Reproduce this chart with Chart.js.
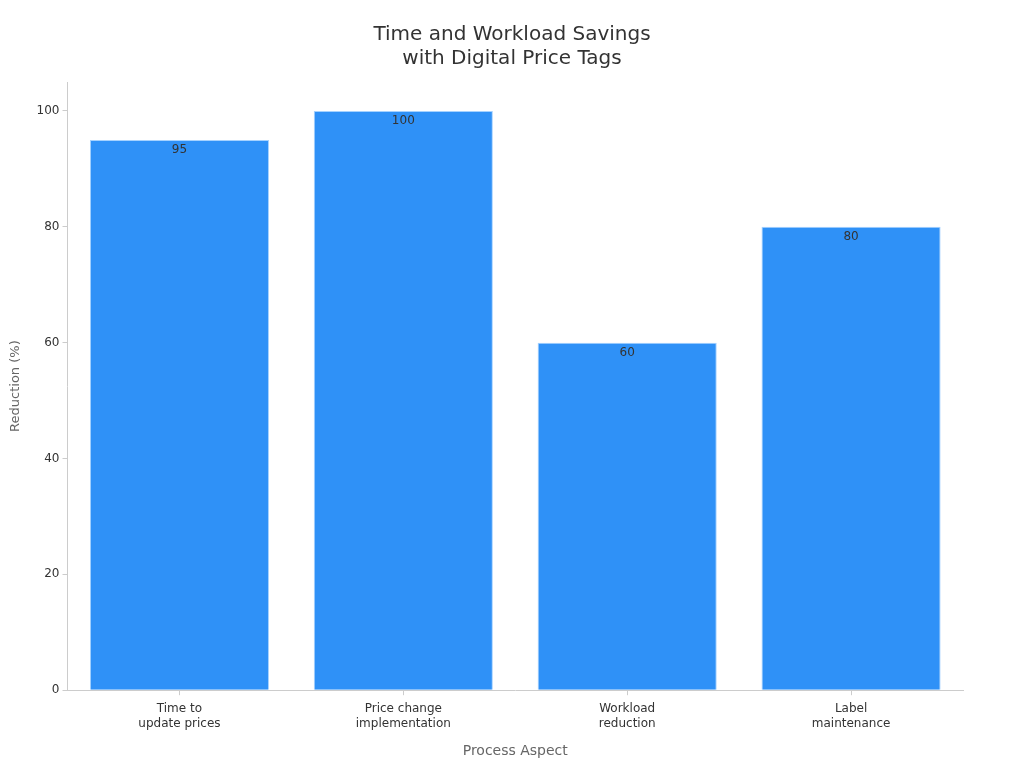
<!DOCTYPE html>
<html>
<head>
<meta charset="utf-8">
<script src="https://cdn.jsdelivr.net/npm/chart.js@4"></script>
<style>
  html, body { margin: 0; padding: 0; background: #fff; }
  #wrap { width: 1024px; height: 768px; }
</style>
</head>
<body>
<div id="wrap"><canvas id="savingsChart"></canvas></div>
<script>
// chart data
const categories = [['Time to', 'update prices'], ['Price change', 'implementation'], ['Workload', 'reduction'], ['Label', 'maintenance']];
const reductionValues = [95, 100, 60, 80];
const yTicks = [0, 20, 40, 60, 80, 100];

// value labels just inside the top of each bar
const barValueLabels = {
    id: 'barValueLabels',
    afterDatasetsDraw(chart) {
        const ctx = chart.ctx;
        const meta = chart.getDatasetMeta(0);
        ctx.save();
        ctx.font = '12px "DejaVu Sans", sans-serif';
        ctx.fillStyle = '#333333';
        ctx.textAlign = 'center';
        ctx.textBaseline = 'middle';
        meta.data.forEach((bar, i) => {
            ctx.fillText(String(reductionValues[i]), bar.x, bar.y + 10);
        });
        ctx.restore();
    }
};

Chart.defaults.font.family = '"DejaVu Sans", sans-serif';

new Chart(document.getElementById('savingsChart'), {
    type: 'bar',
    data: {
        labels: categories,
        datasets: [{
            label: 'Reduction (%)',
            data: reductionValues,
            backgroundColor: '#2f91f7',
            borderColor: '#a6d2ff',
            borderWidth: 1,
            barPercentage: 0.8,
            categoryPercentage: 1.0
        }]
    },
    options: {
        responsive: true,
        maintainAspectRatio: false,
        animation: false,
        layout: { padding: { left: 4, right: 4, top: 4, bottom: 4 } },
        plugins: {
            legend: { display: false },
            tooltip: { enabled: false },
            title: {
                display: true,
                text: ['Time and Workload Savings', 'with Digital Price Tags'],
                color: '#333333',
                font: { size: 20, weight: 'normal' },
                lineHeight: 1.4,
                padding: { top: 19, bottom: 11 }
            }
        },
        scales: {
            x: {
                grid: { drawOnChartArea: false, drawTicks: true, tickLength: 5, color: '#cccccc', offset: false },
                border: { display: true, color: '#cccccc' },
                ticks: { color: '#333333', font: { size: 12, lineHeight: 1.25 }, padding: 6 },
                title: {
                    display: true,
                    text: 'Process Aspect',
                    color: '#666666',
                    font: { size: 14 },
                    padding: { top: 6 }
                }
            },
            y: {
                min: 0,
                max: 105,
                afterBuildTicks(axis) {
                    axis.ticks = yTicks.map(v => ({ value: v }));
                },
                grid: { drawOnChartArea: false, drawTicks: true, tickLength: 5, color: '#cccccc' },
                border: { display: true, color: '#cccccc' },
                ticks: { color: '#333333', font: { size: 12 } },
                title: {
                    display: true,
                    text: 'Reduction (%)',
                    color: '#666666',
                    font: { size: 13 },
                    padding: { bottom: 10 }
                }
            },
            // empty right-hand axis, only to leave space right of the plot
            yRight: {
                position: 'right',
                display: true,
                grid: { display: false },
                border: { display: false },
                ticks: { display: false },
                afterFit(axis) {
                    axis.width = 57;
                }
            }
        }
    },
    plugins: [barValueLabels]
});
</script>
</body>
</html>
